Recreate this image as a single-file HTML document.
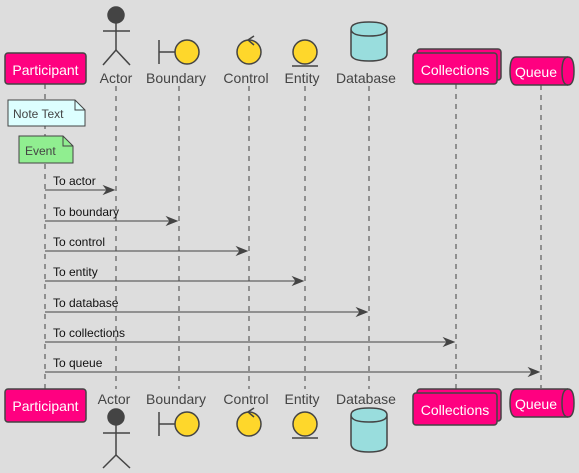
<!DOCTYPE html>
<html><head><style>body{margin:0;background:#dddddd}svg{display:block}</style></head>
<body>
<svg width="579" height="473" viewBox="0 0 579 473" font-family="Liberation Sans, sans-serif">
<rect width="579" height="473" fill="#dddddd"/>
<g stroke="#444" stroke-width="1" stroke-dasharray="5,5">
<line x1="45" y1="84" x2="45" y2="389"/>
<line x1="116" y1="86" x2="116" y2="389"/>
<line x1="179" y1="86" x2="179" y2="389"/>
<line x1="249" y1="86" x2="249" y2="389"/>
<line x1="305" y1="86" x2="305" y2="389"/>
<line x1="369" y1="86" x2="369" y2="389"/>
<line x1="456" y1="84" x2="456" y2="389"/>
<line x1="541" y1="85" x2="541" y2="388"/>
</g>
<g stroke="#444" stroke-width="1.5">
<rect x="5" y="53" width="81" height="31" rx="3" fill="#ff0080"/>
<circle cx="116" cy="15" r="8" fill="#444"/>
<line x1="116" y1="23" x2="116" y2="50"/><line x1="103" y1="31" x2="130" y2="31"/>
<line x1="116" y1="50" x2="103" y2="65"/><line x1="116" y1="50" x2="130" y2="65"/>
<line x1="159" y1="40" x2="159" y2="64"/><line x1="159" y1="52" x2="175" y2="52"/>
<circle cx="187" cy="52" r="12" fill="#fed72b"/>
<circle cx="249" cy="52" r="12" fill="#fed72b"/>
<polyline points="254,36 248,40 254,45" fill="none"/>
<circle cx="305" cy="52" r="12" fill="#fed72b"/>
<line x1="292" y1="66" x2="318" y2="66"/>
<path d="M351 29 V54 Q351 61 369 61 Q387 61 387 54 V29 Q387 22 369 22 Q351 22 351 29 Q351 36 369 36 Q387 36 387 29" fill="#99dddd"/>
<rect x="417" y="49" width="84" height="31" rx="3" fill="#ff0080"/>
<rect x="413" y="53" width="84" height="31" rx="3" fill="#ff0080"/>
<path d="M516 57 H568 Q574 57 574 71 Q574 85 568 85 H516 Q510 85 510 71 Q510 57 516 57 Z" fill="#ff0080"/>
<path d="M568 57 Q562 57 562 71 Q562 85 568 85" fill="none"/>
</g>
<g font-size="14" fill="#fff" text-anchor="middle">
<text x="45.5" y="75">Participant</text>
<text x="455" y="75">Collections</text>
<text x="536" y="77">Queue</text>
</g>
<g font-size="14" fill="#444" text-anchor="middle">
<text x="116" y="83">Actor</text><text x="176" y="83">Boundary</text><text x="246" y="83">Control</text>
<text x="302" y="83">Entity</text><text x="366" y="83">Database</text>
<text x="114" y="404">Actor</text><text x="176" y="404">Boundary</text><text x="246" y="404">Control</text>
<text x="302" y="404">Entity</text><text x="366" y="404">Database</text>
</g>
<g stroke="#444" stroke-width="1">
<path d="M8 100 H75 L85 110 V126 H8 Z" fill="#ddffff"/><path d="M75 100 V110 H85" fill="none"/>
<path d="M19 136 H63 L73 146 V163 H19 Z" fill="#90ee90"/><path d="M63 136 V146 H73" fill="none"/>
</g>
<text x="13" y="118" font-size="12" fill="#444">Note Text</text>
<text x="25" y="155" font-size="12" fill="#444">Event</text>
<g stroke="#444" stroke-width="1" fill="#444">
<line x1="45" y1="190" x2="114" y2="190"/><path d="M114 190 L104 186 L107 190 L104 194Z"/>
<line x1="45" y1="221" x2="177" y2="221"/><path d="M177 221 L167 217 L170 221 L167 225Z"/>
<line x1="45" y1="251" x2="247" y2="251"/><path d="M247 251 L237 247 L240 251 L237 255Z"/>
<line x1="45" y1="281" x2="303" y2="281"/><path d="M303 281 L293 277 L296 281 L293 285Z"/>
<line x1="45" y1="312" x2="367" y2="312"/><path d="M367 312 L357 308 L360 312 L357 316Z"/>
<line x1="45" y1="342" x2="454" y2="342"/><path d="M454 342 L444 338 L447 342 L444 346Z"/>
<line x1="45" y1="372" x2="539" y2="372"/><path d="M539 372 L529 368 L532 372 L529 376Z"/>
</g>
<g font-size="12" fill="#111">
<text x="53" y="185">To actor</text><text x="53" y="216">To boundary</text><text x="53" y="246">To control</text>
<text x="53" y="276">To entity</text><text x="53" y="307">To database</text><text x="53" y="337">To collections</text>
<text x="53" y="367">To queue</text>
</g>
<g stroke="#444" stroke-width="1.5">
<rect x="5" y="389" width="81" height="33" rx="3" fill="#ff0080"/>
<circle cx="116" cy="417" r="8" fill="#444"/>
<line x1="116" y1="425" x2="116" y2="455"/><line x1="103" y1="433" x2="130" y2="433"/>
<line x1="116" y1="455" x2="103" y2="468"/><line x1="116" y1="455" x2="130" y2="468"/>
<line x1="159" y1="412" x2="159" y2="436"/><line x1="159" y1="424" x2="175" y2="424"/>
<circle cx="187" cy="424" r="12" fill="#fed72b"/>
<circle cx="249" cy="424" r="12" fill="#fed72b"/>
<polyline points="254,408 248,412 254,417" fill="none"/>
<circle cx="305" cy="424" r="12" fill="#fed72b"/>
<line x1="292" y1="438" x2="318" y2="438"/>
<path d="M351 415 V444 Q351 452 369 452 Q387 452 387 444 V415 Q387 408 369 408 Q351 408 351 415 Q351 422 369 422 Q387 422 387 415" fill="#99dddd"/>
<rect x="417" y="389" width="84" height="32" rx="3" fill="#ff0080"/>
<rect x="413" y="393" width="84" height="32" rx="3" fill="#ff0080"/>
<path d="M516 389 H568 Q574 389 574 403 Q574 417 568 417 H516 Q510 417 510 403 Q510 389 516 389 Z" fill="#ff0080"/>
<path d="M568 389 Q562 389 562 403 Q562 417 568 417" fill="none"/>
</g>
<g font-size="14" fill="#fff" text-anchor="middle">
<text x="45.5" y="411">Participant</text>
<text x="455" y="415">Collections</text>
<text x="536" y="409">Queue</text>
</g>
</svg>
</body></html>
